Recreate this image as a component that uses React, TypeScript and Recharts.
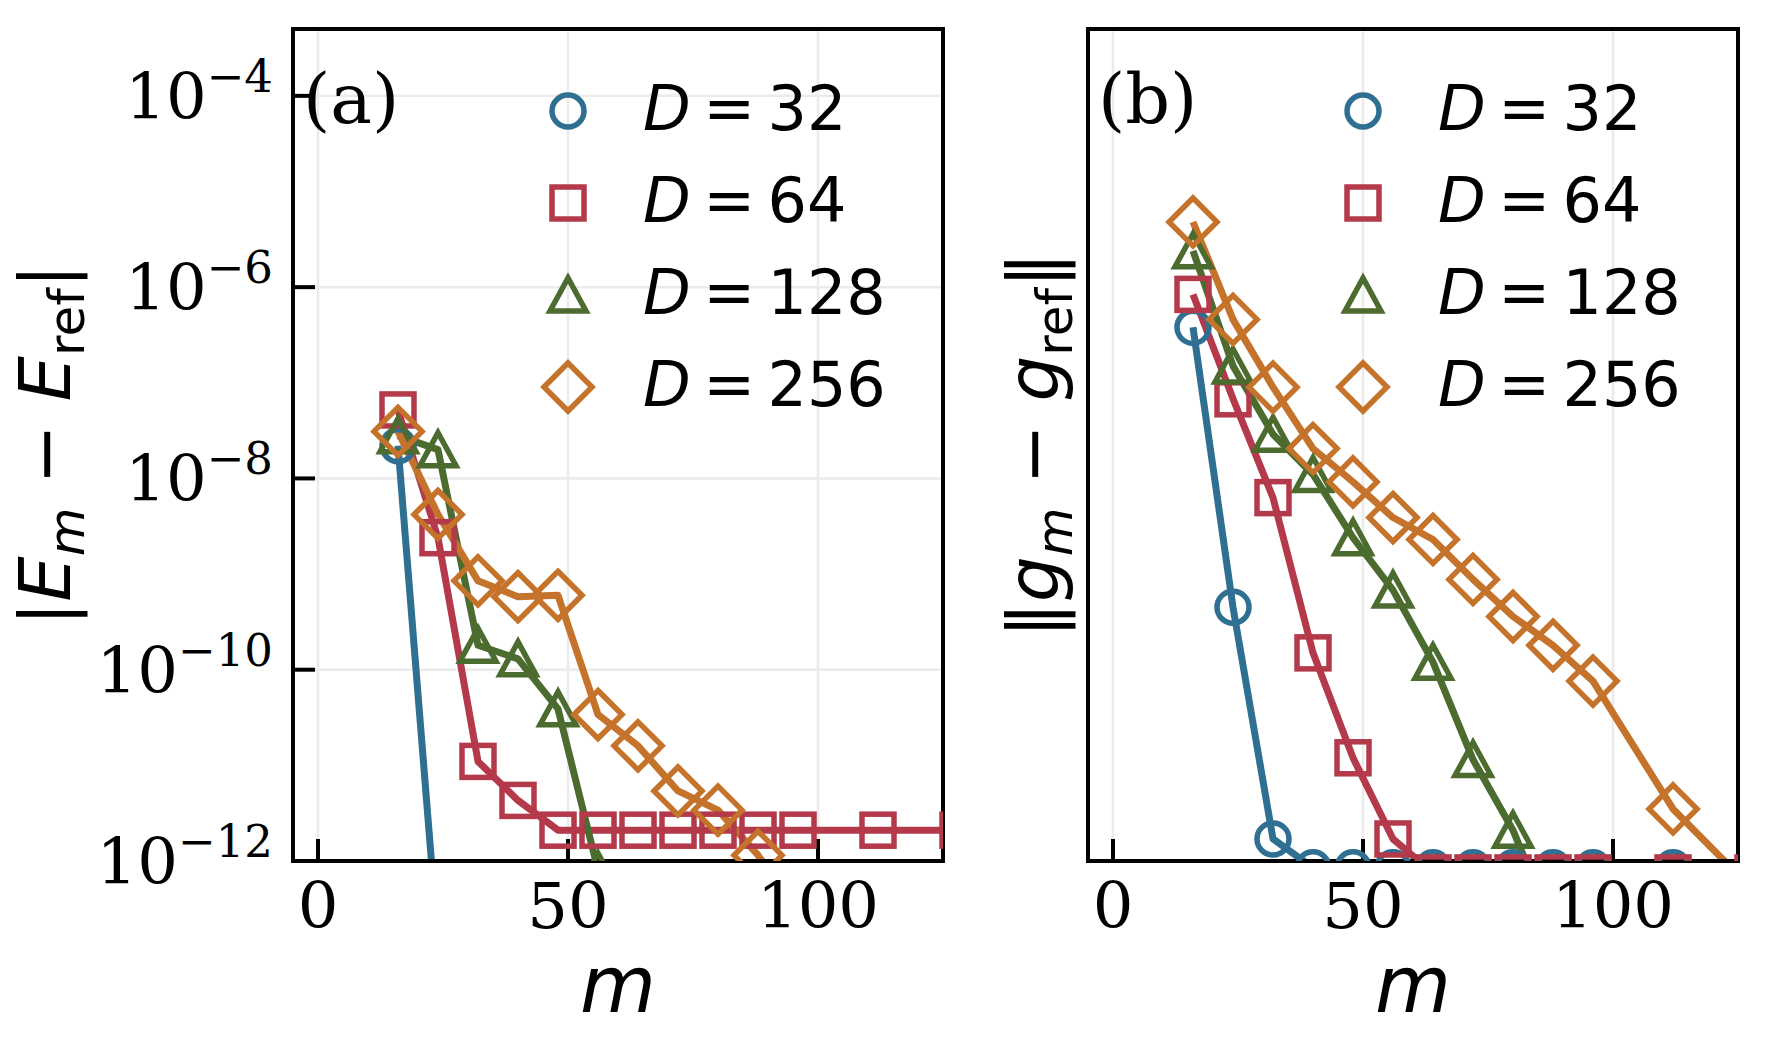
import React from 'react';
import { LineChart, Line, XAxis, YAxis, CartesianGrid, Legend } from 'recharts';

// Truncation parameter m shared by every series
const mValues = [16, 24, 32, 40, 48, 56, 64, 72, 80, 88, 96, 112, 128];

// (a) energy error |E_m - E_ref| for each bond dimension D
const energyErrD32 = [2.2e-8, 1.4e-13, null, null, null, null, null, null, null, null, null, null, null];
const energyErrD64 = [5.2e-8, 2.4e-9, 1.1e-11, 4.3e-12, 2.1e-12, 2.1e-12, 2.1e-12, 2.1e-12, 2.1e-12, 2.1e-12, 2.1e-12, 2.1e-12, 2.1e-12];
const energyErrD128 = [2.8e-8, 2.0e-8, 1.8e-10, 1.3e-10, 3.9e-11, 8.0e-13, null, null, null, null, null, null, null];
const energyErrD256 = [3.1e-8, 4.2e-9, 8.5e-10, 5.8e-10, 6.0e-10, 3.4e-11, 1.6e-11, 5.4e-12, 3.4e-12, 1.15e-12, 3.0e-13, null, null];

// (b) gradient error ||g_m - g_ref|| for each bond dimension D
const gradErrD32 = [3.8e-7, 4.5e-10, 1.7e-12, 8.5e-13, 8.5e-13, 8.5e-13, 8.5e-13, 8.5e-13, 8.5e-13, 8.5e-13, 8.5e-13, 8.5e-13, 8.5e-13];
const gradErrD64 = [8.4e-7, 6.8e-8, 6.3e-9, 1.5e-10, 1.2e-11, 1.7e-12, 7.5e-13, 7.5e-13, 7.5e-13, 7.5e-13, 7.5e-13, 7.5e-13, 7.5e-13];
const gradErrD128 = [2.4e-6, 1.5e-7, 2.9e-8, 1.1e-8, 2.4e-9, 6.8e-10, 1.2e-10, 1.15e-11, 2.1e-12, 2.0e-13, null, null, null];
const gradErrD256 = [4.8e-6, 4.6e-7, 9.0e-8, 2.05e-8, 9.2e-9, 3.9e-9, 2.3e-9, 8.8e-10, 3.6e-10, 1.8e-10, 7.6e-11, 3.5e-12, 5.0e-13];

const bondDims = [32, 64, 128, 256];
const seriesKeys = ['d32', 'd64', 'd128', 'd256'];
const seriesColors = ['#2f6f91', '#b3394b', '#4b6b2f', '#c5732b'];
const markerKinds = ['circle', 'square', 'triangle', 'diamond'];

const xTicks = [0, 50, 100];
const yTicks = [1e-12, 1e-10, 1e-8, 1e-6, 1e-4];
const xDomain: [number, number] = [-5, 125];
const yDomain: [number, number] = [1e-12, 5e-4];

const buildRows = (cols: (number | null)[][]) =>
  mValues.map((m, i) => {
    const row: Record<string, number | null> = { m };
    seriesKeys.forEach((k, j) => {
      row[k] = cols[j][i];
    });
    return row;
  });

const energyRows = buildRows([energyErrD32, energyErrD64, energyErrD128, energyErrD256]);
const gradRows = buildRows([gradErrD32, gradErrD64, gradErrD128, gradErrD256]);

const SERIF = '"DejaVu Serif", serif';
const SANS = '"DejaVu Sans", sans-serif';
const TICK_FONT = 64;
const LABEL_FONT = 72;
const LINE_W = 7;
const MARK_W = 5.5;
const TICK_LEN = 22;

function Marker({ kind, cx, cy, color }: { kind: string; cx: number; cy: number; color: string }) {
  const common = { fill: 'none', stroke: color, strokeWidth: MARK_W, strokeLinejoin: 'miter' as const };
  if (kind === 'circle') return <circle cx={cx} cy={cy} r={16} {...common} />;
  if (kind === 'square') return <rect x={cx - 16} y={cy - 16} width={32} height={32} {...common} />;
  if (kind === 'triangle')
    return <polygon points={`${cx},${cy - 17} ${cx - 18},${cy + 16} ${cx + 18},${cy + 16}`} {...common} />;
  return <polygon points={`${cx},${cy - 24} ${cx + 24},${cy} ${cx},${cy + 24} ${cx - 24},${cy}`} {...common} />;
}

const makeDot = (kind: string, color: string) => (p: any) => {
  const key = `${kind}-${p.index}`;
  if (p.cx == null || p.cy == null || p.value == null) return <g key={key} />;
  return <Marker key={key} kind={kind} cx={p.cx} cy={p.cy} color={color} />;
};

const XTick = (p: any) => (
  <text x={p.x} y={p.y + 67} textAnchor="middle" fontFamily={SERIF} fontSize={TICK_FONT} fill="#000">
    {p.payload.value}
  </text>
);

const YTick = (p: any) => {
  const exp = Math.round(Math.log10(p.payload.value));
  return (
    <text x={p.x} y={p.y + 23} textAnchor="end" fontFamily={SERIF} fontSize={TICK_FONT} fill="#000">
      10
      <tspan dy={-27} fontSize={45}>
        {'\u2212' + Math.abs(exp)}
      </tspan>
    </text>
  );
};

const LegendBox = (props: any) => {
  const items = [...(props.payload || [])].sort(
    (a: any, b: any) => seriesKeys.indexOf(a.dataKey) - seriesKeys.indexOf(b.dataKey)
  );
  return (
    <svg width={340} height={380} style={{ overflow: 'visible', display: 'block' }}>
      {items.map((it: any, i: number) => {
        const idx = seriesKeys.indexOf(it.dataKey);
        const y = 51 + i * 92;
        return (
          <g key={it.dataKey}>
            <Marker kind={markerKinds[idx]} cx={48} cy={y} color={seriesColors[idx]} />
            <text x={123} y={y + 19} fontFamily={SANS} fontSize={62} fill="#000">
              <tspan fontStyle="italic">D</tspan>
              {'\u2009=\u2009' + bondDims[idx]}
            </text>
          </g>
        );
      })}
    </svg>
  );
};

type PanelProps = {
  rows: Record<string, number | null>[];
  width: number;
  left: number;
  right: number;
  tag: string;
  yLabel: 'energy' | 'grad';
  yLabelOffset: number;
  showYTicks: boolean;
  legendLeft: number;
};

function Panel({ rows, width, left, right, tag, yLabel, yLabelOffset, showYTicks, legendLeft }: PanelProps) {
  const sub = Math.round(LABEL_FONT * 0.7);
  const shift = 14;
  const bar = yLabel === 'energy' ? '|' : '\u2016';
  const sym = yLabel === 'energy' ? 'E' : 'g';

  // rotated axis title; x is the text baseline
  const yLabelContent = (p: any) => {
    const vb = p.viewBox;
    const x = vb.x + vb.width - yLabelOffset;
    const y = vb.y + vb.height / 2;
    return (
      <text
        transform={`translate(${x},${y}) rotate(-90)`}
        textAnchor="middle"
        fontFamily={SANS}
        fontSize={LABEL_FONT}
        fill="#000"
      >
        <tspan>{bar}</tspan>
        <tspan fontStyle="italic">{sym}</tspan>
        <tspan fontStyle="italic" fontSize={sub} dy={shift}>m</tspan>
        <tspan dy={-shift}>{' \u2212 '}</tspan>
        <tspan fontStyle="italic">{sym}</tspan>
        <tspan fontSize={sub} dy={shift}>ref</tspan>
        <tspan dy={-shift}>{bar}</tspan>
      </text>
    );
  };

  const xLabelContent = (p: any) => {
    const vb = p.viewBox;
    return (
      <text
        x={vb.x + vb.width / 2}
        y={vb.y + 151}
        textAnchor="middle"
        fontFamily={SANS}
        fontStyle="italic"
        fontSize={78}
        fill="#000"
      >
        m
      </text>
    );
  };

  const tagContent = (p: any) => {
    const vb = p.viewBox;
    return (
      <text x={vb.x + 10} y={vb.y + vb.height + 94} fontFamily={SERIF} fontSize={70} fill="#000">
        {tag}
      </text>
    );
  };

  const axisLine = { stroke: '#000', strokeWidth: 4, strokeLinecap: 'square' as const };
  const tickLine = { stroke: '#000', strokeWidth: 4 };

  return (
    <LineChart width={width} height={1060} data={rows} margin={{ top: 28, left: left - 1, right: right - 1, bottom: 198 }}>
      <CartesianGrid stroke="#ebebeb" strokeWidth={2.5} />
      <XAxis
        dataKey="m"
        type="number"
        domain={xDomain}
        allowDataOverflow
        ticks={xTicks}
        height={1}
        tickSize={-TICK_LEN}
        tickMargin={TICK_LEN}
        axisLine={axisLine}
        tickLine={tickLine}
        tick={XTick}
        label={xLabelContent}
      />
      <XAxis
        xAxisId="top"
        orientation="top"
        type="number"
        domain={xDomain}
        allowDataOverflow
        ticks={xTicks}
        height={1}
        tickSize={-TICK_LEN}
        axisLine={axisLine}
        tickLine={tickLine}
        tick={false}
        label={tagContent}
      />
      <YAxis
        scale="log"
        type="number"
        domain={yDomain}
        allowDataOverflow
        ticks={yTicks}
        width={1}
        tickSize={-TICK_LEN}
        tickMargin={TICK_LEN + 20}
        axisLine={axisLine}
        tickLine={tickLine}
        tick={showYTicks ? YTick : false}
        label={yLabelContent}
      />
      <YAxis
        yAxisId="right"
        orientation="right"
        scale="log"
        type="number"
        domain={yDomain}
        allowDataOverflow
        ticks={yTicks}
        width={1}
        tickSize={-TICK_LEN}
        axisLine={axisLine}
        tickLine={tickLine}
        tick={false}
      />
      {seriesKeys.map((k, i) => (
        <Line
          key={k}
          dataKey={k}
          name={`D = ${bondDims[i]}`}
          type="linear"
          stroke={seriesColors[i]}
          strokeWidth={LINE_W}
          strokeLinejoin="round"
          dot={makeDot(markerKinds[i], seriesColors[i])}
          activeDot={false}
          isAnimationActive={false}
        />
      ))}
      <Legend
        layout="vertical"
        align="center"
        verticalAlign="middle"
        content={LegendBox}
        wrapperStyle={{ left: legendLeft, top: 60, width: 340, height: 380 }}
      />
    </LineChart>
  );
}

export default function App() {
  return (
    <div style={{ position: 'absolute', left: 0, top: 0, width: 1769, height: 1060, background: '#fff' }}>
      <div style={{ position: 'absolute', left: 0, top: 0 }}>
        <Panel
          rows={energyRows}
          width={960}
          left={293}
          right={17}
          tag="(a)"
          yLabel="energy"
          yLabelOffset={223}
          showYTicks
          legendLeft={520}
        />
      </div>
      <div style={{ position: 'absolute', left: 960, top: 0 }}>
        <Panel
          rows={gradRows}
          width={809}
          left={128}
          right={31}
          tag="(b)"
          yLabel="grad"
          yLabelOffset={30}
          showYTicks={false}
          legendLeft={355}
        />
      </div>
    </div>
  );
}
